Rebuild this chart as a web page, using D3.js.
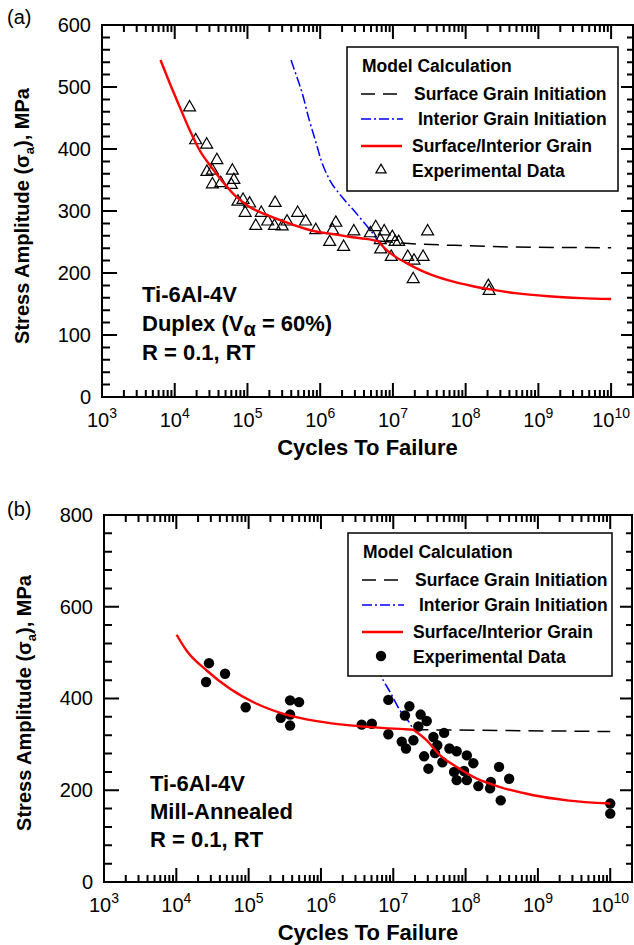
<!DOCTYPE html>
<html>
<head>
<meta charset="utf-8">
<script src="https://cdn.jsdelivr.net/npm/d3@7"></script>
<style>
  body { margin: 0; background: #fff; }
  svg { display: block; }
  text { font-family: Arial, "Liberation Sans", sans-serif; }
</style>
</head>
<body>
<svg id="chart" width="634" height="945"></svg>
<script>
// ---- Shared axis / legend content ----
const decadeExponents = [3, 4, 5, 6, 7, 8, 9, 10];
const cyclesMax = 2e10;
const legendTitle = "Model Calculation";
const legendLabels = ["Surface Grain Initiation", "Interior Grain Initiation", "Surface/Interior Grain", "Experimental Data"];
const xTitle = "Cycles To Failure";

// ---- (a) Ti-6Al-4V duplex: [cycles, stress amplitude MPa] ----
const expDuplex = [
  [1.6e4, 467], [1.94e4, 414], [2.75e4, 407], [3.8e4, 382], [2.77e4, 363], [3.3e4, 365],
  [6.2e4, 365], [3.3e4, 343], [4.3e4, 345], [6.5e4, 350], [6.0e4, 342], [7.4e4, 315],
  [8.7e4, 318], [1.07e5, 312], [9.3e4, 297], [1.55e5, 297], [2.4e5, 313], [1.3e5, 276],
  [1.9e5, 283], [2.35e5, 276], [3.0e5, 275], [3.5e5, 283], [4.9e5, 297], [6.3e5, 283],
  [8.7e5, 269], [1.64e6, 281], [1.48e6, 269], [1.35e6, 250], [2.1e6, 242], [2.9e6, 267],
  [4.9e6, 264], [5.8e6, 274], [7.6e6, 267], [6.8e6, 238], [6.7e6, 253], [9.8e6, 258],
  [9.5e6, 226], [1.2e7, 250], [1.07e7, 250], [1.6e7, 226], [1.95e7, 220], [2.6e7, 226],
  [1.9e7, 190], [3.0e7, 267], [2.05e8, 179], [2.1e8, 171]
];
const surfaceDuplex = [[6.24e6, 251.6], [1.49e7, 248], [9.9e7, 244], [8.1e8, 241.5], [1e10, 240.8]];
const interiorDuplex = [
  [3.97e5, 543.5], [4.69e5, 519], [5.66e5, 490], [7.06e5, 447], [8.55e5, 414.5], [1.03e6, 382],
  [1.33e6, 351.6], [2.0e6, 322.6], [3.11e6, 296.8], [4.27e6, 277.4], [5.0e6, 267.7], [6.24e6, 251.6]
];
const combinedDuplex = [
  [6.37e3, 543.5], [8.55e3, 506], [1.17e4, 468], [1.6e4, 431], [2.2e4, 398], [3.18e4, 371],
  [4.59e4, 347], [7.0e4, 323], [1.06e5, 307], [1.8e5, 294], [3.76e5, 280], [8.7e5, 267],
  [1.47e6, 263], [2.5e6, 258.5], [4.23e6, 255], [6.24e6, 251.6], [8.0e6, 238], [1.09e7, 226],
  [1.66e7, 214], [2.8e7, 201], [5.85e7, 188], [1.22e8, 179], [2.07e8, 174], [4.8e8, 167.5],
  [1.37e9, 162.5], [3.9e9, 159.5], [1e10, 158]
];
const noteDuplex = ["Ti-6Al-4V", "Duplex (V", "α", " = 60%)", "R = 0.1, RT"];

// ---- (b) Ti-6Al-4V mill-annealed: [cycles, stress amplitude MPa] ----
const expMill = [
  [2.83e4, 477], [4.72e4, 454], [2.58e4, 436], [9.1e4, 381], [3.74e5, 396], [4.98e5, 392],
  [3.74e5, 365], [2.78e5, 358], [3.74e5, 341], [3.66e6, 343], [5.05e6, 345], [8.55e6, 397],
  [8.55e6, 322], [1.67e7, 383], [1.45e7, 363], [2.39e7, 365], [2.9e7, 351], [2.22e7, 339],
  [1.31e7, 306], [1.5e7, 291], [1.9e7, 309], [2.67e7, 274], [3.06e7, 247], [3.59e7, 316],
  [5.05e7, 325], [4.06e7, 298], [3.78e7, 281], [4.78e7, 261], [5.97e7, 291], [7.53e7, 285],
  [1.04e8, 276], [1.28e8, 259], [6.93e7, 240], [7.53e7, 222], [9.53e7, 242], [1.04e8, 222],
  [1.5e8, 209], [2.23e8, 218], [2.18e8, 204], [2.9e8, 251], [4.0e8, 225], [3.06e8, 178],
  [1e10, 171], [1e10, 149]
];
const surfaceMill = [[1.9e7, 332], [1e10, 328]];
const interiorMill = [
  [3.7e6, 539], [5.09e6, 491], [7.3e6, 439], [9.04e6, 414], [1.24e7, 374], [1.71e7, 345], [1.9e7, 332]
];
const combinedMill = [
  [1.01e4, 539], [1.39e4, 504], [2.63e4, 461], [5.53e4, 421], [1.29e5, 388.5], [3.02e5, 366.7],
  [8.75e5, 350.7], [2.52e6, 341.3], [4.78e6, 337.6], [1.9e7, 332], [2.9e7, 308.7], [4.44e7, 276],
  [7.55e7, 250.7], [1.43e8, 225.4], [3.0e8, 207], [8.67e8, 189], [2.51e9, 178], [1e10, 171]
];
const noteMill = ["Ti-6Al-4V", "Mill-Annealed", "R = 0.1, RT"];

const svg = d3.select("#chart");
const FONT = 'Arial, "Liberation Sans", sans-serif';

function minorCycles() {
  const out = [];
  decadeExponents.forEach(e => {
    for (let k = 2; k <= 9; k++) {
      const v = k * Math.pow(10, e);
      if (v < 1e10) out.push(v);
    }
  });
  return out;
}

function drawPanel(p) {
  const g = svg.append("g");
  const x = d3.scaleLog().domain([1e3, cyclesMax]).range([p.left, p.right]);
  const y = d3.scaleLinear().domain([0, p.yMax]).range([p.bottom, p.top]);
  const majorX = decadeExponents.map(e => Math.pow(10, e));
  const minorX = minorCycles();
  const majorY = d3.range(0, p.yMax + 1, p.yStep);
  const minorY = d3.range(0, p.yMax + 1, p.yMinor).filter(v => v % p.yStep !== 0);

  // value labels on the left axis
  const yAxis = g.append("g").attr("transform", `translate(${p.left},0)`)
    .call(d3.axisLeft(y).tickValues(majorY).tickSize(0).tickPadding(11).tickFormat(d3.format("d")));
  yAxis.select(".domain").remove();
  yAxis.attr("font-size", 20).attr("font-family", FONT);
  yAxis.selectAll("text").attr("fill", "#000");

  // decade labels 10^n
  const xl = g.append("g").selectAll("text").data(decadeExponents).join("text")
    .attr("x", e => x(Math.pow(10, e)))
    .attr("y", p.bottom + 30)
    .attr("text-anchor", "middle")
    .attr("font-size", 20);
  xl.append("tspan").text("10");
  xl.append("tspan").attr("font-size", 14).attr("dy", -9).text(e => e);

  // model curves
  const clipId = "clip-" + p.id;
  g.append("clipPath").attr("id", clipId).append("rect")
    .attr("x", p.left).attr("y", p.top).attr("width", p.right - p.left).attr("height", p.bottom - p.top);
  const plot = g.append("g").attr("clip-path", `url(#${clipId})`);
  const line = d3.line().x(d => x(d[0])).y(d => y(d[1])).curve(d3.curveMonotoneX);

  plot.append("path").datum(p.surface).attr("d", line)
    .attr("fill", "none").attr("stroke", "#000").attr("stroke-width", 1.5).attr("stroke-dasharray", "15,8");
  plot.append("path").datum(p.interior).attr("d", line)
    .attr("fill", "none").attr("stroke", "#0000ff").attr("stroke-width", 1.5).attr("stroke-dasharray", "10,3,2,3");

  // experimental data
  if (p.marker === "triangle") {
    const tri = d3.symbol().type(d3.symbolTriangle).size(62);
    plot.append("g").selectAll("path").data(p.exp).join("path")
      .attr("d", tri)
      .attr("transform", d => `translate(${x(d[0])},${y(d[1])})`)
      .attr("fill", "none").attr("stroke", "#000").attr("stroke-width", 1.2);
  } else {
    plot.append("g").selectAll("circle").data(p.exp).join("circle")
      .attr("cx", d => x(d[0])).attr("cy", d => y(d[1])).attr("r", 5.2)
      .attr("fill", "#000");
  }

  // combined surface/interior curve, sharp corner where surface initiation branches off
  const kink = p.combined.findIndex(d => d[0] === p.surface[0][0]);
  [p.combined.slice(0, kink + 1), p.combined.slice(kink)].forEach(seg => {
    plot.append("path").datum(seg).attr("d", line)
      .attr("fill", "none").attr("stroke", "#ff0000").attr("stroke-width", 2.4);
  });

  // frame outline and its inward tick marks, drawn as one path
  const fp = d3.path();
  fp.rect(p.left, p.top, p.right - p.left, p.bottom - p.top);
  const vTick = (sx, y0, y1) => { fp.moveTo(sx, y0); fp.lineTo(sx, y1); };
  const hTick = (sy, x0, x1) => { fp.moveTo(x0, sy); fp.lineTo(x1, sy); };
  majorX.forEach(v => { vTick(x(v), p.bottom, p.bottom - 14); vTick(x(v), p.top, p.top + 14); });
  minorX.forEach(v => { vTick(x(v), p.bottom, p.bottom - 7); vTick(x(v), p.top, p.top + 7); });
  majorY.forEach(v => { hTick(y(v), p.left, p.left + 15); hTick(y(v), p.right, p.right - 12); });
  minorY.forEach(v => { hTick(y(v), p.left, p.left + 8); hTick(y(v), p.right, p.right - 6); });
  g.append("path").attr("d", fp.toString())
    .attr("fill", "none").attr("stroke", "#000").attr("stroke-width", 2);

  // legend
  const L = p.legend;
  const lg = g.append("g").attr("transform", `translate(${L.x},${L.y})`);
  lg.append("rect").attr("width", L.w).attr("height", L.h)
    .attr("fill", "#fff").attr("stroke", "#000").attr("stroke-width", 1.5);
  lg.append("text").attr("x", 15).attr("y", 25).attr("font-size", 17.5).attr("font-weight", "bold").text(legendTitle);
  const rowsLine = [47, 72, 99, 123];
  const rowsText = [53, 78, 105, 130];
  const textX = [67, 71, 65, 65];
  lg.append("line").attr("x1", 14).attr("x2", 50).attr("y1", rowsLine[0]).attr("y2", rowsLine[0])
    .attr("stroke", "#000").attr("stroke-width", 1.5).attr("stroke-dasharray", "14,8");
  lg.append("line").attr("x1", 14).attr("x2", 56).attr("y1", rowsLine[1]).attr("y2", rowsLine[1])
    .attr("stroke", "#0000ff").attr("stroke-width", 1.5).attr("stroke-dasharray", "10,3,2,3");
  lg.append("line").attr("x1", 14).attr("x2", 55).attr("y1", rowsLine[2]).attr("y2", rowsLine[2])
    .attr("stroke", "#ff0000").attr("stroke-width", 2.4);
  if (p.marker === "triangle") {
    lg.append("path").attr("d", d3.symbol().type(d3.symbolTriangle).size(45))
      .attr("transform", `translate(34,${rowsLine[3]})`)
      .attr("fill", "none").attr("stroke", "#000").attr("stroke-width", 1.2);
  } else {
    lg.append("circle").attr("cx", 33).attr("cy", rowsLine[3]).attr("r", 5.2).attr("fill", "#000");
  }
  lg.selectAll("text.item").data(legendLabels).join("text").attr("class", "item")
    .attr("x", (d, i) => textX[i]).attr("y", (d, i) => rowsText[i])
    .attr("font-size", 17.5).attr("font-weight", "bold").text(d => d);

  // axis titles
  g.append("text")
    .attr("x", (p.left + p.right) / 2).attr("y", p.bottom + 58)
    .attr("text-anchor", "middle").attr("font-size", 22).attr("font-weight", "bold")
    .text(xTitle);
  const yt = g.append("text")
    .attr("transform", `translate(${p.yTitleX},${p.yTitleY}) rotate(-90)`)
    .attr("text-anchor", "middle").attr("font-size", 20).attr("font-weight", "bold");
  yt.append("tspan").text("Stress Amplitude (σ");
  yt.append("tspan").attr("font-size", 13).attr("dy", 5).text("a");
  yt.append("tspan").attr("dy", -5).text("), MPa");

  // panel tag
  g.append("text").attr("x", 7).attr("y", p.tagY).attr("font-size", 20).text(p.tag);

  // material note
  const nt = g.append("g").attr("font-size", 22).attr("font-weight", "bold");
  p.noteLines.forEach((ln, i) => {
    const t = nt.append("text").attr("x", p.noteX).attr("y", p.noteY + i * p.noteGap);
    if (Array.isArray(ln)) {
      t.append("tspan").text(ln[0]);
      t.append("tspan").attr("font-size", 20).attr("dy", 5).text(ln[1]);
      t.append("tspan").attr("dy", -5).text(ln[2]);
    } else {
      t.text(ln);
    }
  });
}

drawPanel({
  id: "a", tag: "(a)", tagY: 24,
  left: 102, right: 633, top: 25, bottom: 397, yMax: 600, yStep: 100, yMinor: 20,
  yTitleX: 29, yTitleY: 216,
  exp: expDuplex, surface: surfaceDuplex, interior: interiorDuplex, combined: combinedDuplex,
  marker: "triangle",
  legend: { x: 347, y: 47, w: 271, h: 144 },
  noteX: 142, noteY: 302, noteGap: 28.8,
  noteLines: [noteDuplex[0], [noteDuplex[1], noteDuplex[2], noteDuplex[3]], noteDuplex[4]]
});

drawPanel({
  id: "b", tag: "(b)", tagY: 516,
  left: 104, right: 632, top: 515, bottom: 882, yMax: 800, yStep: 200, yMinor: 40,
  yTitleX: 31, yTitleY: 703,
  exp: expMill, surface: surfaceMill, interior: interiorMill, combined: combinedMill,
  marker: "circle",
  legend: { x: 348, y: 533, w: 264, h: 143 },
  noteX: 150, noteY: 791, noteGap: 27.8,
  noteLines: noteMill
});
</script>
</body>
</html>
